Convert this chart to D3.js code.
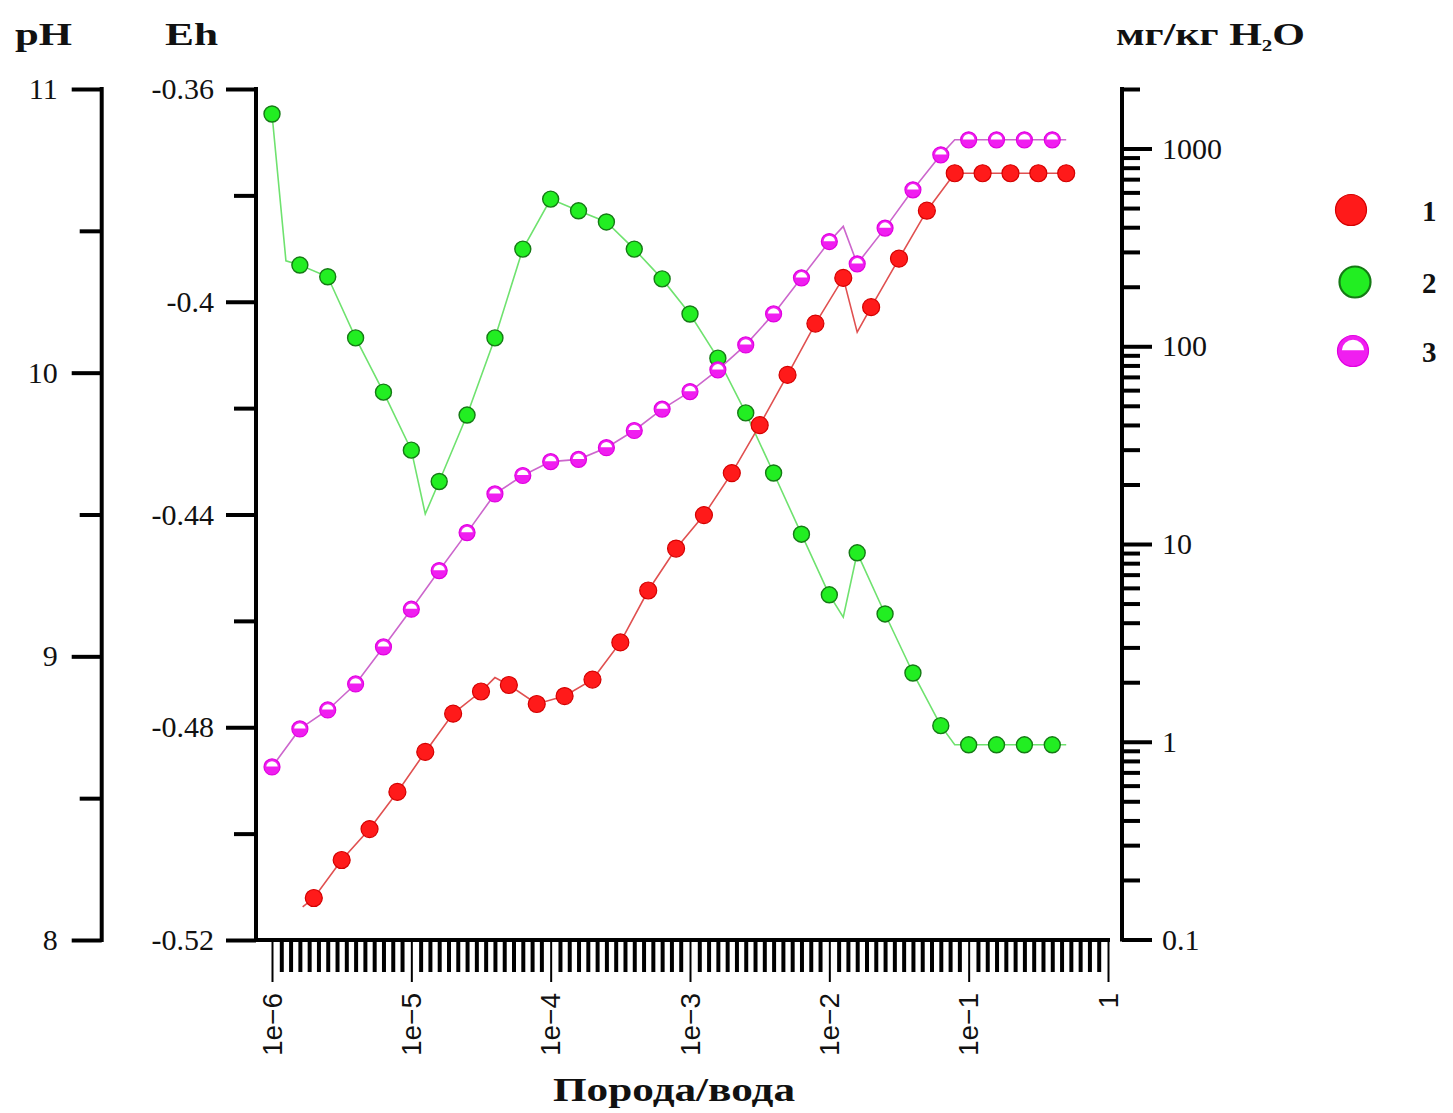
<!DOCTYPE html>
<html><head><meta charset="utf-8">
<script src="https://cdn.jsdelivr.net/npm/d3@7"></script>
<style>body{margin:0;background:#fff} svg{display:block}</style>
</head><body>
<svg id="chart" width="1453" height="1113"></svg>
<script>
// ---------- data ----------
// x values are log10(порода/вода)
const evenLogX = [-6,-5.8,-5.6,-5.4,-5.2,-5,-4.8,-4.6,-4.4,-4.2,-4,-3.8,-3.6,-3.4,-3.2,-3,-2.8,-2.6,-2.4,-2.2,-2,-1.8,-1.6,-1.4,-1.2,-1,-0.8,-0.6,-0.4];
const oddLogX  = [-5.7,-5.5,-5.3,-5.1,-4.9,-4.7,-4.5,-4.3,-4.1,-3.9,-3.7,-3.5,-3.3,-3.1,-2.9,-2.7,-2.5,-2.3,-2.1,-1.9,-1.7,-1.5,-1.3,-1.1,-0.9,-0.7,-0.5,-0.3];

// series 1 (red) — pH
const phValues = [8.148,8.282,8.391,8.522,8.663,8.798,8.876,8.899,8.832,8.860,8.918,9.049,9.232,9.380,9.498,9.646,9.815,9.992,10.173,10.334,10.231,10.402,10.571,10.703,10.703,10.703,10.703,10.703];
const phLineExtraLogX = [-5.78,-4.4,-1.8];
const phLineExtraValues = [8.117,8.925,10.143];

// series 2 (green) — Eh
const ehValues = [-0.3647,-0.3931,-0.3953,-0.4068,-0.4170,-0.4279,-0.4338,-0.4213,-0.4068,-0.3901,-0.3807,-0.3829,-0.3850,-0.3901,-0.3957,-0.4023,-0.4106,-0.4209,-0.4322,-0.4437,-0.4551,-0.4472,-0.4587,-0.4698,-0.4797,-0.4833,-0.4833,-0.4833,-0.4833];
const ehLineExtraLogX = [-5.9,-4.9,-1.9,-1.1,-0.3];
const ehLineExtraValues = [-0.3923,-0.4399,-0.4593,-0.4833,-0.4833];

// series 3 (magenta) — мг/кг H2O
const mgValues = [0.746,1.161,1.448,1.960,3.017,4.68,7.34,11.42,17.92,22.2,26.1,26.8,30.7,37.5,48.1,59.0,76.0,101.6,145.8,221.8,338.6,261.1,395.8,618,929,1107,1107,1107,1107];
const mgLineExtraLogX = [-1.9,-1.1,-0.3];
const mgLineExtraValues = [404,1107,1107];

// axes
const xTickValues = [1e-6,1e-5,1e-4,1e-3,1e-2,1e-1,1];
const xTickLabels = ["1e\u22126","1e\u22125","1e\u22124","1e\u22123","1e\u22122","1e\u22121","1"];
const phTickValues = [8,9,10,11];
const phTickLabels = ["8","9","10","11"];
const phMinorTicks = [8.5,9.5,10.5];
const ehTickValues = [-0.52,-0.48,-0.44,-0.40,-0.36];
const ehTickLabels = ["-0.52","-0.48","-0.44","-0.4","-0.36"];
const ehMinorTicks = [-0.50,-0.46,-0.42,-0.38];
const mgTickValues = [0.1,1,10,100,1000];
const mgTickLabels = ["0.1","1","10","100","1000"];
const legendLabels = ["1","2","3"];

// ---------- drawing ----------
const svg = d3.select("#chart");
const SERIF = "'Liberation Serif','Times New Roman',serif";
const SANS = "'Liberation Sans',Arial,sans-serif";

const x = d3.scaleLog().domain([1e-6, 1]).range([272, 1108]);
const yPH = d3.scaleLinear().domain([8, 11]).range([940, 89]);
const yEh = d3.scaleLinear().domain([-0.52, -0.36]).range([940, 89]);
const yMg = d3.scaleLog().domain([0.1, 2000]).range([939.5, 89]);
const X = lg => x(Math.pow(10, lg));

const phAxisX = 101.7, ehAxisX = 256, mgAxisX = 1122;

function styleTicks(g, w) {
  g.select(".domain").remove();
  g.selectAll(".tick line").attr("stroke", "#000").attr("stroke-width", w);
  g.selectAll(".tick text").attr("fill", "#111").attr("font-family", SERIF).attr("font-size", 30);
}

// pH axis
svg.append("g").attr("transform", `translate(${phAxisX},0)`)
  .call(d3.axisLeft(yPH).tickValues(phTickValues).tickFormat((d,i)=>phTickLabels[i]).tickSize(30).tickPadding(14))
  .call(g => styleTicks(g, 4));
svg.append("g").attr("transform", `translate(${phAxisX},0)`)
  .call(d3.axisLeft(yPH).tickValues(phMinorTicks).tickFormat("").tickSize(22))
  .call(g => styleTicks(g, 4));
svg.append("line").attr("x1", phAxisX).attr("x2", phAxisX).attr("y1", 87).attr("y2", 942)
  .attr("stroke", "#000").attr("stroke-width", 4);

// Eh axis
svg.append("g").attr("transform", `translate(${ehAxisX},0)`)
  .call(d3.axisLeft(yEh).tickValues(ehTickValues).tickFormat((d,i)=>ehTickLabels[i]).tickSize(30).tickPadding(12))
  .call(g => styleTicks(g, 4));
svg.append("g").attr("transform", `translate(${ehAxisX},0)`)
  .call(d3.axisLeft(yEh).tickValues(ehMinorTicks).tickFormat("").tickSize(22))
  .call(g => styleTicks(g, 4));
svg.append("line").attr("x1", ehAxisX).attr("x2", ehAxisX).attr("y1", 87).attr("y2", 942)
  .attr("stroke", "#000").attr("stroke-width", 4);

// right axis (log)
const mgMinor = [];
[0.1,1,10,100,1000].forEach(d => { for (let k = 2; k <= 9; k++) { const v = d*k; if (v <= 2000) mgMinor.push(v); } });
svg.append("g").attr("transform", `translate(${mgAxisX},0)`)
  .call(d3.axisRight(yMg).tickValues(mgTickValues).tickFormat((d,i)=>mgTickLabels[i]).tickSize(30).tickPadding(10))
  .call(g => styleTicks(g, 4));
svg.append("g").attr("transform", `translate(${mgAxisX},0)`)
  .call(d3.axisRight(yMg).tickValues(mgMinor).tickFormat("").tickSize(18))
  .call(g => styleTicks(g, 4));
svg.append("line").attr("x1", mgAxisX).attr("x2", mgAxisX).attr("y1", 87).attr("y2", 941.5)
  .attr("stroke", "#000").attr("stroke-width", 4);

// x axis
const xMinor = [];
for (let d = -6; d < 0; d++) for (let k = 1; k < 15; k++) xMinor.push(Math.pow(10, d + k/15));
svg.append("g").attr("transform", "translate(0,940)")
  .call(d3.axisBottom(x).tickValues(xMinor).tickFormat("").tickSize(32))
  .call(g => styleTicks(g, 4));
svg.append("g").attr("transform", "translate(0,940)")
  .call(d3.axisBottom(x).tickValues(xTickValues).tickFormat("").tickSize(42))
  .call(g => styleTicks(g, 2));
svg.append("line").attr("x1", ehAxisX - 2).attr("x2", 1110).attr("y1", 940).attr("y2", 940)
  .attr("stroke", "#000").attr("stroke-width", 4);
svg.append("g").selectAll("text").data(xTickValues).join("text")
  .attr("transform", d => `translate(${x(d)},993) rotate(-90)`)
  .attr("text-anchor", "end").attr("dy", "0.35em")
  .attr("font-family", SANS).attr("font-size", 28).attr("fill", "#111")
  .text((d,i) => xTickLabels[i]);

// ---------- series ----------
function mergeLine(mx, mv, ex, ev) {
  const pts = mx.map((d,i)=>[d, mv[i]]).concat(ex.map((d,i)=>[d, ev[i]]));
  return pts.sort((a,b)=>a[0]-b[0]);
}
const ehLine = mergeLine(evenLogX, ehValues, ehLineExtraLogX, ehLineExtraValues);
const phLine = mergeLine(oddLogX, phValues, phLineExtraLogX, phLineExtraValues);
const mgLine = mergeLine(evenLogX, mgValues, mgLineExtraLogX, mgLineExtraValues);

function drawLine(pts, yScale, color) {
  svg.append("path").datum(pts)
    .attr("fill", "none").attr("stroke", color).attr("stroke-width", 1.6)
    .attr("d", d3.line().x(d => X(d[0])).y(d => yScale(d[1])));
}
function redMarker(g, r) {
  g.append("circle").attr("r", r).attr("fill", "#ff1a1a").attr("stroke", "#d40000").attr("stroke-width", 1.2);
}
function greenMarker(g, r) {
  g.append("circle").attr("r", r).attr("fill", "#22ee22").attr("stroke", "#157a15").attr("stroke-width", r > 10 ? 2.2 : 1.4);
}
function magentaMarker(g, r) {
  g.append("circle").attr("r", r).attr("fill", "#f01ef0").attr("stroke", "#e000e0").attr("stroke-width", 1.2);
  const ri = r * 0.72, cy = -r * 0.05;
  const hw = Math.sqrt(ri*ri - cy*cy);
  g.append("path").attr("fill", "#fff")
    .attr("d", `M${-hw},${cy} A${ri},${ri} 0 0 1 ${hw},${cy} Z`);
}
function drawMarkers(xs, vals, yScale, fn, r) {
  svg.append("g").selectAll("g").data(xs).join("g")
    .attr("transform", (d,i) => `translate(${X(d)},${yScale(vals[i])})`)
    .each(function(){ fn(d3.select(this), r); });
}

drawLine(ehLine, yEh, "#6fe26f");
drawMarkers(evenLogX, ehValues, yEh, greenMarker, 8);
drawLine(phLine, yPH, "#e05050");
drawMarkers(oddLogX, phValues, yPH, redMarker, 8.5);
drawLine(mgLine, yMg, "#cc66cc");
drawMarkers(evenLogX, mgValues, yMg, magentaMarker, 8);

// ---------- titles ----------
function title(txt, xx, yy, len, size) {
  return svg.append("text").attr("x", xx).attr("y", yy)
    .attr("font-family", SERIF).attr("font-weight", "bold").attr("font-size", size)
    .attr("fill", "#111").attr("textLength", len).attr("lengthAdjust", "spacingAndGlyphs")
    .text(txt);
}
title("pH", 15, 45, 57, 32);
title("Eh", 165, 45, 53, 32);
const t3 = svg.append("text").attr("x", 1116).attr("y", 45)
  .attr("font-family", SERIF).attr("font-weight", "bold").attr("font-size", 32).attr("fill", "#111")
  .attr("textLength", 189).attr("lengthAdjust", "spacingAndGlyphs");
t3.append("tspan").text("мг/кг H");
t3.append("tspan").attr("font-size", 16).attr("dy", 6).text("2");
t3.append("tspan").attr("dy", -6).text("O");
title("Порода/вода", 553, 1101, 242, 33);

// ---------- legend ----------
const legendItems = [
  {fn: redMarker, cx: 1351, cy: 210},
  {fn: greenMarker, cx: 1355, cy: 282},
  {fn: magentaMarker, cx: 1353, cy: 351}
];
legendItems.forEach((it, i) => {
  const g = svg.append("g").attr("transform", `translate(${it.cx},${it.cy})`);
  it.fn(g, 15.5);
  svg.append("text").attr("x", 1422).attr("y", it.cy + 11)
    .attr("font-family", SERIF).attr("font-weight", "bold").attr("font-size", 29).attr("fill", "#111")
    .text(legendLabels[i]);
});
</script>
</body></html>
